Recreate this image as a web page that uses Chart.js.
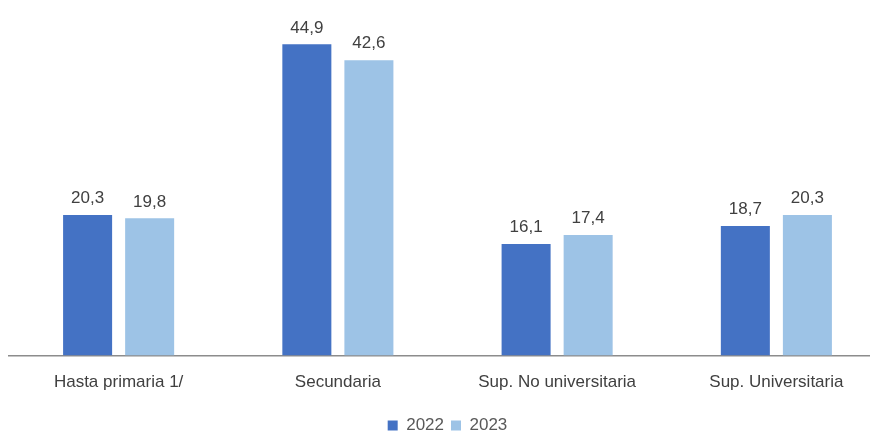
<!DOCTYPE html>
<html>
<head>
<meta charset="utf-8">
<script src="https://cdn.jsdelivr.net/npm/chart.js@4.4.1/dist/chart.umd.min.js"></script>
<style>
  html, body { margin: 0; padding: 0; background: #fff; overflow: hidden; }
  #wrap { width: 886px; height: 431px; position: relative; }
</style>
</head>
<body>
<div id="wrap"><canvas id="chart"></canvas></div>
<script>
const categories = ['Hasta primaria 1/', 'Secundaria', 'Sup. No universitaria', 'Sup. Universitaria'];
const values2022 = [20.3, 44.9, 16.1, 18.7];
const values2023 = [19.8, 42.6, 17.4, 20.3];
const seriesNames = ['2022', '2023'];

const fontFamily = '"Liberation Sans", Arial, sans-serif';

// draws the value above each bar, with a comma decimal
const valueLabels = {
    id: 'valueLabels',
    afterDatasetsDraw(chart) {
        const ctx = chart.ctx;
        ctx.save();
        ctx.font = '17px ' + fontFamily;
        ctx.fillStyle = '#404040';
        ctx.textAlign = 'center';
        ctx.textBaseline = 'bottom';
        chart.data.datasets.forEach((ds, i) => {
            chart.getDatasetMeta(i).data.forEach((bar, j) => {
                ctx.fillText(ds.data[j].toFixed(1).replace('.', ','), bar.x, bar.y - 8);
            });
        });
        ctx.restore();
    }
};

new Chart(document.getElementById('chart'), {
    type: 'bar',
    data: {
        labels: categories,
        datasets: [
            { label: seriesNames[0], data: values2022, backgroundColor: '#4472C4' },
            { label: seriesNames[1], data: values2023, backgroundColor: '#9DC3E6' }
        ]
    },
    options: {
        responsive: true,
        maintainAspectRatio: false,
        animation: false,
        categoryPercentage: 0.566,
        barPercentage: 0.79,
        layout: { padding: { top: 9, left: 9, right: 0, bottom: -13 } },
        scales: {
            x: {
                grid: { display: false, drawTicks: false },
                border: { display: true, color: '#8c8c8c', width: 1.5 },
                ticks: {
                    color: '#404040',
                    padding: 17,
                    font: { family: fontFamily, size: 17 }
                }
            },
            y: {
                display: false,
                min: 0,
                max: 50
            }
        },
        plugins: {
            legend: {
                position: 'bottom',
                labels: {
                    boxWidth: 10,
                    boxHeight: 10,
                    padding: 7,
                    color: '#595959',
                    font: { family: fontFamily, size: 17 }
                }
            },
            tooltip: { enabled: false }
        }
    },
    plugins: [valueLabels]
});
</script>
</body>
</html>
